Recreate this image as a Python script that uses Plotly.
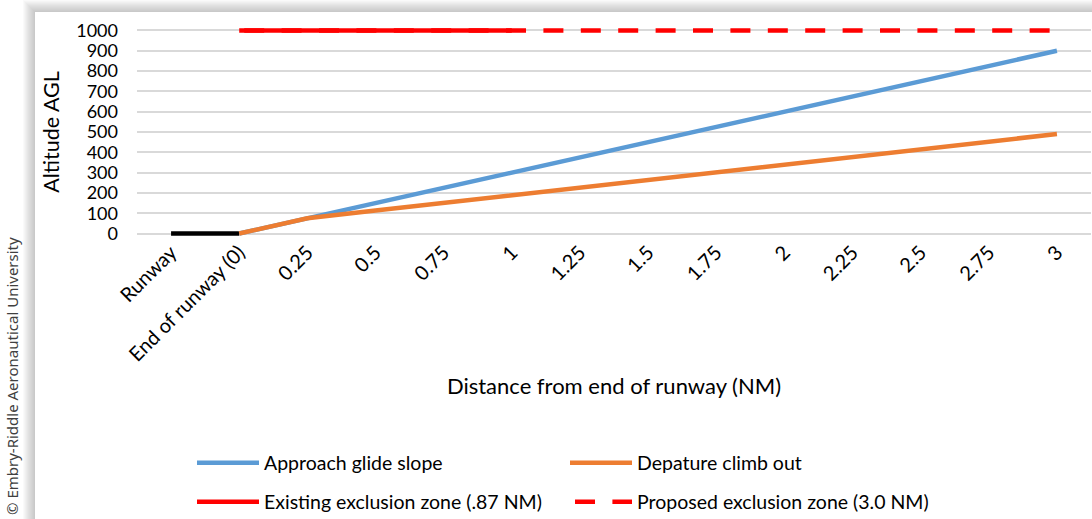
import plotly.graph_objects as go

# Category axis: runway, end of runway, then distance in NM
categories = ["Runway", "End of runway (0)", "0.25", "0.5", "0.75", "1", "1.25",
              "1.5", "1.75", "2", "2.25", "2.5", "2.75", "3"]

# Altitude AGL (ft) per category
runway = [0, 0] + [None] * 12
approach_glide_slope = [None, 0, 75, 150, 225, 300, 375, 450, 525, 600, 675, 750, 825, 900]
departure_climb_out = [None, 0, 75, 113, 151, 189, 226, 264, 302, 340, 377, 415, 453, 490]
existing_zone = [None, 1000, 1000, 1000, 1000, 1000] + [None] * 8
proposed_zone = [None] + [1000] * 13

y_ticks = list(range(0, 1001, 100))

W, H = 1092, 519
ML, MR, MT, MB = 137, 1, 28, 283
PW, PH = W - ML - MR, H - MT - MB


def xp(px):
    return (px - ML) / PW


def yp(py):
    return (H - MB - py) / PH


fig = go.Figure()

fig.add_trace(go.Scatter(x=categories, y=runway, mode="lines",
                         line=dict(color="#000000", width=4.5), showlegend=False,
                         hoverinfo="skip"))
fig.add_trace(go.Scatter(x=categories, y=approach_glide_slope, mode="lines",
                         name="Approach glide slope",
                         line=dict(color="#5B9BD5", width=4.5), legend="legend"))
fig.add_trace(go.Scatter(x=categories, y=departure_climb_out, mode="lines",
                         name="Depature climb out",
                         line=dict(color="#ED7D31", width=4.5), legend="legend"))
fig.add_trace(go.Scatter(x=categories, y=proposed_zone, mode="lines",
                         name="Proposed exclusion zone (3.0 NM)",
                         line=dict(color="#FF0000", width=4.5,
                                   dash="0px,5px,20px,12.4px"),
                         legend="legend2", legendrank=2))
fig.add_trace(go.Scatter(x=categories, y=existing_zone, mode="lines",
                         name="Existing exclusion zone (.87 NM)",
                         line=dict(color="#FF0000", width=4.5),
                         legend="legend2", legendrank=1))

# Card background with a soft drop shadow
shapes = []
for k in range(12, 0, -1):
    shapes.append(dict(type="rect", xref="paper", yref="paper", layer="below",
                       x0=xp(35 - k), x1=xp(W + 20), y0=yp(12 - k), y1=yp(H + 20),
                       line=dict(width=0), fillcolor="rgba(120,120,120,0.035)"))
shapes.append(dict(type="rect", xref="paper", yref="paper", layer="below",
                   x0=xp(35), x1=xp(W + 20), y0=yp(12), y1=yp(H + 20),
                   line=dict(width=0), fillcolor="white"))

legend_common = dict(orientation="h", xanchor="left", yanchor="middle",
                     entrywidth=296, entrywidthmode="pixels", itemwidth=62,
                     font=dict(family="Lato", size=19.5, color="black"),
                     bgcolor="rgba(0,0,0,0)", traceorder="normal")

fig.update_layout(
    width=W, height=H,
    margin=dict(l=ML, r=MR, t=MT, b=MB, autoexpand=False),
    paper_bgcolor="white", plot_bgcolor="rgba(0,0,0,0)",
    font=dict(family="Lato", color="black"),
    shapes=shapes,
    legend=dict(x=xp(192), y=yp(463), **legend_common),
    legend2=dict(x=xp(192), y=yp(502), **legend_common),
    annotations=[dict(text="© Embry-Riddle Aeronautical University",
                      xref="paper", yref="paper", x=xp(12), y=yp(376),
                      xanchor="center", yanchor="middle",
                      textangle=-90, showarrow=False,
                      font=dict(family="Noto Sans", size=15, color="#404040"))],
)

fig.update_xaxes(type="category", range=[-0.5, 13.5], tickangle=-45,
                 tickfont=dict(size=20), showgrid=False, showline=False,
                 zeroline=False, ticks="",
                 title=dict(text="Distance from end of runway (NM)",
                            font=dict(size=22), standoff=14))
fig.update_yaxes(range=[-12, 1012], tickvals=y_ticks, showgrid=True,
                 gridcolor="#d9d9d9", gridwidth=1.5, zeroline=False,
                 showline=False, ticks="", tickfont=dict(size=18),
                 ticklabelstandoff=18,
                 title=dict(text="Altitude AGL", font=dict(size=21.5), standoff=10))

fig.write_html("out.html")
